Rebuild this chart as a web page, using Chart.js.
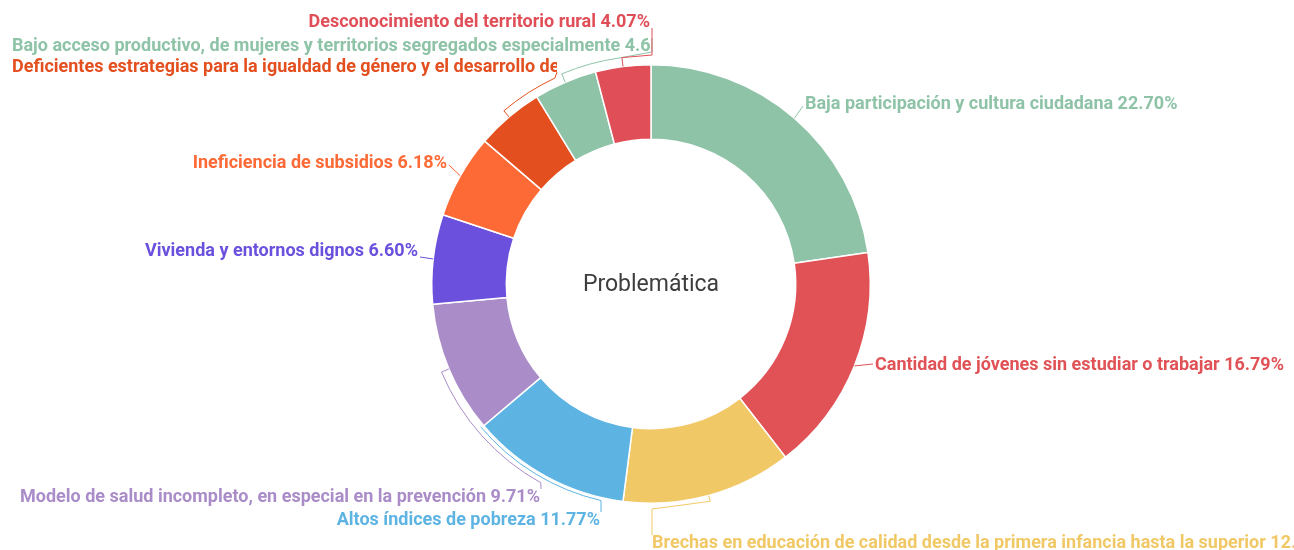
<!DOCTYPE html>
<html>
<head>
<meta charset="utf-8">
<script src="https://cdn.jsdelivr.net/npm/chart.js@4.4.1/dist/chart.umd.min.js"></script>
<style>
  html, body { margin: 0; padding: 0; background: #fff; }
  #wrap { width: 1294px; height: 550px; position: relative; }
</style>
</head>
<body>
<div id="wrap"><canvas id="chart"></canvas></div>
<script>
// data
const categories = [
  'Baja participación y cultura ciudadana',
  'Cantidad de jóvenes sin estudiar o trabajar',
  'Brechas en educación de calidad desde la primera infancia hasta la superior',
  'Altos índices de pobreza',
  'Modelo de salud incompleto, en especial en la prevención',
  'Vivienda y entornos dignos',
  'Ineficiencia de subsidios',
  'Deficientes estrategias para la igualdad de género y el desarrollo de',
  'Bajo acceso productivo, de mujeres y territorios segregados especialmente',
  'Desconocimiento del territorio rural'
];
const shares = [22.70, 16.79, 12.55, 11.77, 9.71, 6.60, 6.18, 4.98, 4.65, 4.07];
const sliceColors = ['#8ec3a7', '#e05256', '#f1c866', '#5db4e3', '#a98cc8',
                     '#6b50de', '#fd6a35', '#e44f1f', '#8ec3a7', '#e04e57'];
const centerTitle = 'Problemática';

// where each outside label sits, and how its leader line runs
// line points: ['p', angleDeg (null = slice middle), radial offset] or ['xy', x, y]
const labelLayout = [
  { x: 805, y: 104, align: 'left',  line: [['p', null, 0], ['xy', 803, 106]] },
  { x: 875, y: 365, align: 'left',  line: [['p', null, 0], ['xy', 873, 364]] },
  { x: 652, y: 543, align: 'left',  line: [['p', null, 0], ['p', null, 6], ['xy', 652, 509], ['xy', 652, 535]] },
  { x: 600, y: 520, align: 'right', line: [['p', 230, 3], ['p', 193, 3], ['xy', 601, 512]] },
  { x: 540, y: 497, align: 'right', line: [['p', null, 0], ['p', null, 8], ['p', 209, 8], ['xy', 541, 489]] },
  { x: 418, y: 251, align: 'right', line: [['p', null, 0], ['xy', 420, 257]] },
  { x: 447, y: 163, align: 'right', line: [['p', null, 0], ['xy', 449, 165]] },
  { x: 12,  y: 67,  align: 'left',  clip: 557, line: [['p', null, 0], ['p', null, 8], ['p', 335, 8], ['xy', 557, 72]] },
  { x: 12,  y: 46,  align: 'left',  clip: 652, line: [['p', null, 0], ['p', null, 9], ['p', 352, 9], ['xy', 652, 52], ['xy', 652, 38]] },
  { x: 650, y: 22,  align: 'right', line: [['p', null, 0], ['p', null, 9], ['xy', 652, 55], ['xy', 652, 28]] }
];

const outsideLabels = {
  id: 'outsideLabels',
  afterDraw(chart) {
    const ctx = chart.ctx;
    const meta = chart.getDatasetMeta(0);
    const first = meta.data[0];
    const cx = first.x, cy = first.y, R = first.outerRadius;
    const toRad = deg => (deg - 90) * Math.PI / 180;

    ctx.save();
    // center title
    ctx.fillStyle = '#3d3d3d';
    ctx.font = '23px Roboto';
    ctx.textAlign = 'center';
    ctx.textBaseline = 'middle';
    ctx.fillText(centerTitle, cx, cy + 1);

    meta.data.forEach((arc, i) => {
      const lay = labelLayout[i];
      const mid = (arc.startAngle + arc.endAngle) / 2;
      const col = sliceColors[i];
      // leader line
      ctx.beginPath();
      ctx.strokeStyle = col;
      ctx.lineWidth = 1;
      let prev = null;
      lay.line.forEach((p, k) => {
        let pt;
        if (p[0] === 'p') {
          const a = p[1] === null ? mid : toRad(p[1]);
          const r = R + p[2];
          pt = { polar: true, a, r, x: cx + r * Math.cos(a), y: cy + r * Math.sin(a) };
        } else {
          pt = { polar: false, x: p[1], y: p[2] };
        }
        if (k === 0) {
          ctx.moveTo(pt.x, pt.y);
        } else if (prev.polar && pt.polar && prev.r === pt.r && prev.a !== pt.a) {
          ctx.arc(cx, cy, pt.r, prev.a, pt.a, pt.a < prev.a);
        } else {
          ctx.lineTo(pt.x, pt.y);
        }
        prev = pt;
      });
      ctx.stroke();

      // label text
      const text = categories[i] + ' ' + shares[i].toFixed(2) + '%';
      ctx.save();
      if (lay.clip) {
        ctx.beginPath();
        ctx.rect(0, 0, lay.clip, chart.height);
        ctx.clip();
      }
      ctx.fillStyle = col;
      ctx.font = 'bold 18px Roboto';
      ctx.textAlign = lay.align;
      ctx.textBaseline = 'middle';
      ctx.fillText(text, lay.x, lay.y);
      ctx.restore();
    });
    ctx.restore();
  }
};

new Chart(document.getElementById('chart'), {
  type: 'doughnut',
  data: {
    labels: categories,
    datasets: [{
      data: shares,
      backgroundColor: sliceColors,
      borderColor: '#ffffff',
      borderWidth: 1.5
    }]
  },
  options: {
    responsive: true,
    maintainAspectRatio: false,
    animation: false,
    cutout: '66%',
    layout: { padding: { top: 64, bottom: 46, left: 8, right: 0 } },
    plugins: {
      legend: { display: false },
      tooltip: { enabled: false }
    }
  },
  plugins: [outsideLabels]
});
</script>
</body>
</html>
